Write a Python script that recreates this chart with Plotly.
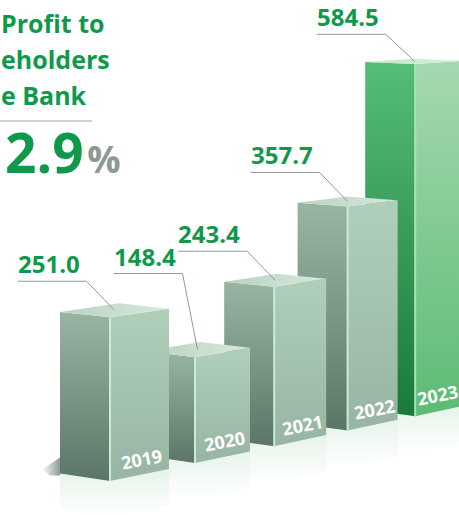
import plotly.graph_objects as go

# ---------------- data ----------------
years = ["2019", "2020", "2021", "2022", "2023"]
profit = [251.0, 148.4, 243.4, 357.7, 584.5]
title_lines = ["Profit to", "eholders", "e Bank"]
headline_value = "2.9"
headline_unit = "%"

# ---------------- layout / style constants ----------------
W, H = 459, 515
K = 0.565         # px per unit of value
BASE = 22         # plinth height in px
YH = -90          # horizon
CR, CL = 0.021, 0.013
WL = 50
GREEN = "#11994b"
LEAD = "#8c9c93"
leader_rise = [29, 76, 29, 29, 27]
leader_run = [28, 15, 28, 28, 29]
LEAD_LEN = 69

# (bottom colour, top colour) for vertical gradients; (left, right) for the top face
grey_style = dict(left=("#5b7666", "#98b5a3"), right=("#97b5a2", "#b0cfba"),
                  top=("#b9d3c2", "#d6e8dc"), edge="#c9ecd6")
green_style = dict(left=("#1a7a3a", "#55bd77"), right=("#5bbb74", "#a6d8b1"),
                   top=("#bfe5c8", "#d8f0dd"), edge="#a9e3b6")


def geom(i):
    fx = 110 + 85 * i - 2.9 * i * (i - 1)
    by = 481 - 18 * i + 0.6 * i * (i - 1)
    wr = 59 - 4 * i + 0.5 * i * (i - 1)
    return fx, by, wr


fig = go.Figure()


def poly(pts, grad_type, c0, c1, opacity=1.0):
    xs = [p[0] for p in pts] + [pts[0][0]]
    ys = [p[1] for p in pts] + [pts[0][1]]
    fig.add_trace(go.Scatter(
        x=xs, y=ys, mode="lines", fill="toself",
        line=dict(width=0, color="rgba(0,0,0,0)"),
        fillgradient=dict(type=grad_type, colorscale=[[0, c0], [1, c1]]),
        opacity=opacity, hoverinfo="skip", showlegend=False))


def line(pts, color, width):
    fig.add_trace(go.Scatter(
        x=[p[0] for p in pts], y=[p[1] for p in pts], mode="lines",
        line=dict(color=color, width=width), hoverinfo="skip", showlegend=False))


bars = []
for i, v in enumerate(profit):
    fx, by, wr = geom(i)
    ty = by - (BASE + K * v)
    dr_t, dl_t = (ty - YH) * CR, (ty - YH) * CL
    dr_b, dl_b = (by - YH) * CR, (by - YH) * CL
    g = dict(
        Ft=(fx, ty), Lt=(fx - WL, ty - dl_t), Rt=(fx + wr, ty - dr_t),
        Bt=(fx - WL + wr, ty - dl_t - dr_t),
        Fb=(fx, by), Lb=(fx - WL, by - dl_b), Rb=(fx + wr, by - dr_b),
        wr=wr, dr_b=dr_b)
    bars.append(g)

# soft reflections and contact shadows
R = 36
for i in range(len(profit) - 1, -1, -1):
    g = bars[i]
    poly([g["Lb"], g["Fb"], g["Rb"], (g["Rb"][0], g["Rb"][1] + R),
          (g["Fb"][0], g["Fb"][1] + R), (g["Lb"][0], g["Lb"][1] + R)],
         "vertical", "#ffffff", "#e6f3ea")
    lx, ly = g["Lb"]
    poly([(lx - 18, ly - 4), (lx, ly - 16), (lx, ly + 2), (lx - 10, ly + 2)],
         "horizontal", "#ffffff", "#5f6f66", 0.7)

# bars, back (right) to front (left)
for i in range(len(profit) - 1, -1, -1):
    g = bars[i]
    st = green_style if i == len(profit) - 1 else grey_style
    poly([g["Ft"], g["Lt"], g["Lb"], g["Fb"]], "vertical", *st["left"])
    poly([g["Ft"], g["Rt"], g["Rb"], g["Fb"]], "vertical", *st["right"])
    poly([g["Lt"], g["Bt"], g["Rt"], g["Ft"]], "horizontal", *st["top"])
    line([g["Ft"], g["Fb"]], st["edge"], 2)

annotations = []
# leader lines and value labels
for i, v in enumerate(profit):
    g = bars[i]
    ex = (g["Ft"][0] + g["Bt"][0]) / 2
    ey = (g["Ft"][1] + g["Bt"][1]) / 2
    elx, ely = ex - leader_run[i], ey - leader_rise[i]
    sx = elx - LEAD_LEN
    line([(sx, ely), (elx, ely), (ex, ey)], LEAD, 1)
    annotations.append(dict(
        x=sx - 1, y=ely, xanchor="left", yanchor="bottom", showarrow=False,
        borderpad=0,
        text=f"<b>{v:.1f}</b>", font=dict(family="Open Sans", size=24, color=GREEN)))
    # year label on right face
    cx = min(g["Fb"][0] + g["wr"] / 2 + 2, W - 22)
    annotations.append(dict(
        x=cx, y=g["Fb"][1] - g["dr_b"] / 2 - 16,
        xanchor="center", yanchor="middle", showarrow=False, textangle=-11,
        borderpad=0,
        text=f"<b>{years[i]}</b>", font=dict(family="Open Sans", size=18, color="#ffffff")))

# title block
for j, t in enumerate(title_lines):
    annotations.append(dict(
        xref="paper", x=0, y=41 + 36 * j, xanchor="left", yanchor="bottom",
        showarrow=False, borderpad=0,
        text=f"<b>{t}</b>", font=dict(family="Open Sans", size=25, color=GREEN)))
annotations.append(dict(
    xref="paper", x=0, xshift=4, y=190, xanchor="left", yanchor="bottom",
    showarrow=False, borderpad=0,
    text=(f"<b>{headline_value}<span style='font-size:37px;color:#8c9a92'>"
          f"&#8202;{headline_unit}</span></b>"),
    font=dict(family="Open Sans", size=55, color=GREEN)))

fig.update_layout(
    width=W, height=H, margin=dict(l=0, r=0, t=0, b=0),
    paper_bgcolor="#ffffff", plot_bgcolor="#ffffff",
    xaxis=dict(range=[0, W], visible=False, fixedrange=True),
    yaxis=dict(range=[H, 0], visible=False, fixedrange=True),
    shapes=[dict(type="line", xref="x", yref="y", x0=0, x1=92, y0=121, y1=121,
                 line=dict(color="#a3a3a3", width=1))],
    annotations=annotations, showlegend=False)

fig.write_html("out.html", config={"displayModeBar": False},
               post_script="document.body.style.margin='0';document.body.style.overflow='hidden';")
